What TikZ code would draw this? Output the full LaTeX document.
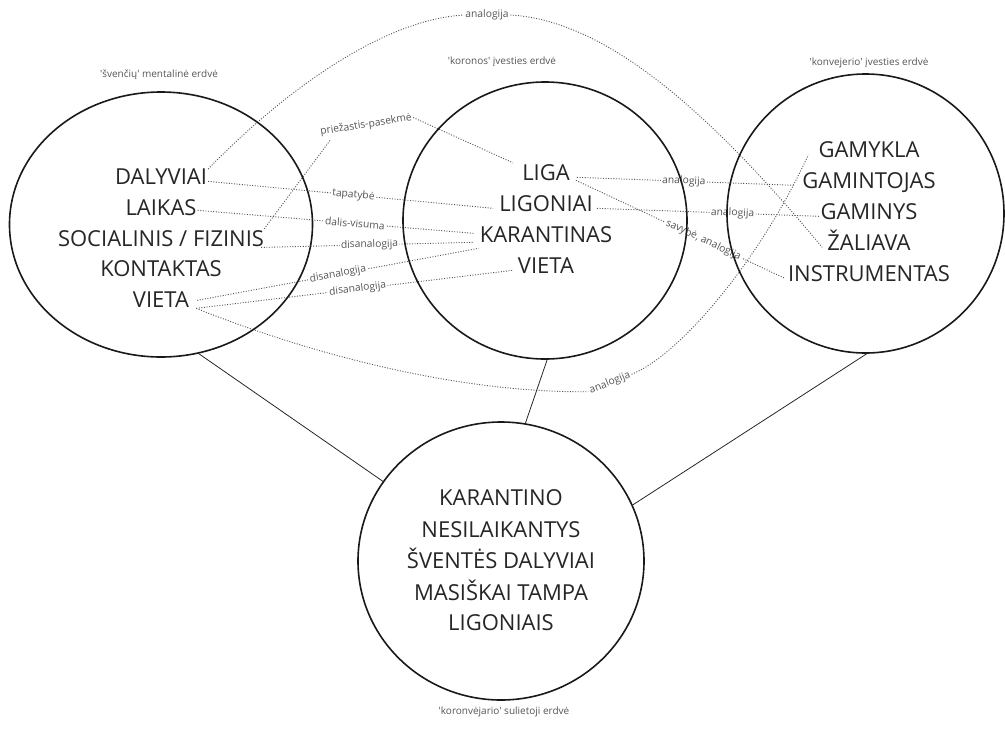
\documentclass[tikz,border=0pt]{standalone}
\usepackage{fontspec}
\setmainfont{Open Sans}
\usetikzlibrary{shapes.geometric,calc}
\definecolor{ink}{HTML}{262626}
\definecolor{note}{HTML}{555555}
\definecolor{dots}{HTML}{555555}
\tikzset{
  space/.style={ellipse, draw=black!90, line width=1.6pt, inner sep=0pt, outer sep=0pt},
  term/.style={font=\fontsize{22}{22}\selectfont, text=ink, anchor=base, inner sep=1pt},
  spacename/.style={font=\fontsize{10}{12}\selectfont, text=note, anchor=base, inner sep=0pt},
  rel/.style={draw=dots, line width=0.9pt, dash pattern=on 1pt off 1.6pt},
  rellabel/.style={font=\fontsize{10.3}{12}\selectfont, text=note, fill=white, inner sep=1.5pt},
  link/.style={draw=black!85, line width=0.8pt},
}
\begin{document}
\begin{tikzpicture}[x=1pt,y=1pt]
\useasboundingbox (0,0) rectangle (1005,-748);

% --- 'švenčių' space
\node[term] (dalyviai) at (161,-184) {DALYVIAI};
\node[term] (laikas) at (161,-215) {LAIKAS};
\node[term] (soc) at (161,-246) {SOCIALINIS / FIZINIS};
\node[term] (kontaktas) at (161,-276) {KONTAKTAS};
\node[term] (vietaL) at (161,-307) {VIETA};

% --- 'koronos' space
\node[term] (liga) at (546,-180) {LIGA};
\node[term] (ligoniai) at (546,-211) {LIGONIAI};
\node[term] (karantinas) at (546,-242) {KARANTINAS};
\node[term] (vietaM) at (546,-273) {VIETA};

% --- 'konvejerio' space
\node[term] (gamykla) at (869,-157.5) {GAMYKLA};
\node[term] (gamintojas) at (869,-188) {GAMINTOJAS};
\node[term] (gaminys) at (869,-219) {GAMINYS};
\node[term] (zaliava) at (869,-250) {ŽALIAVA};
\node[term] (instrumentas) at (869,-281) {INSTRUMENTAS};

% --- blended space
\node[term] (b1) at (501,-505) {KARANTINO};
\node[term] (b2) at (501,-537) {NESILAIKANTYS};
\node[term] (b3) at (501,-568) {ŠVENTĖS DALYVIAI};
\node[term] (b4) at (501,-600) {MASIŠKAI TAMPA};
\node[term] (b5) at (501,-630) {LIGONIAIS};

% --- dotted mappings
\node[rellabel] (labTop) at (487,-15) {analogija};
\draw[rel] ([yshift=-2pt]dalyviai.north east) .. controls (280,-95) and (380,-20) .. (labTop.west);
\draw[rel] (labTop.east) .. controls (600,-20) and (700,-100) .. ([xshift=-4pt]zaliava.mid west);

\draw[rel] (dalyviai.mid east) -- node[rellabel, sloped, pos=0.51] {tapatybė} ([xshift=-5pt]ligoniai.mid west);
\draw[rel] ([yshift=2pt]laikas.mid east) -- node[rellabel, sloped, pos=0.57] {dalis-visuma} ([xshift=-5pt,yshift=6pt]karantinas.mid west);
\draw[rel] ([xshift=-4pt]soc.south east) -- node[rellabel, sloped, pos=0.51] {disanalogija} ([xshift=-5pt,yshift=-3pt]karantinas.mid west);
\draw[rel] ([xshift=7pt,yshift=4pt]vietaL.mid east) -- node[rellabel, sloped, pos=0.5] {disanalogija} ([yshift=-9pt]karantinas.mid west);
\draw[rel] ([xshift=6pt,yshift=-4pt]vietaL.mid east) -- node[rellabel, sloped, pos=0.51] {disanalogija} ([xshift=-4pt]vietaM.mid west);

\node[rellabel, rotate=22] (labBot) at (610,-383) {analogija};
\draw[rel] ([xshift=6pt,yshift=-4pt]vietaL.mid east) .. controls (300,-350) and (450,-393) .. (labBot.west);
\draw[rel] (labBot.east) .. controls (680,-355) and (760,-260) .. ([xshift=-9pt]gamykla.mid west);

\node[rellabel, rotate=9] (labCause) at (366,-125) {priežastis-pasekmė};
\draw[rel] ([xshift=-1pt]soc.north east) -- ([xshift=11pt]labCause.south west);
\draw[rel] (labCause.east) -- ([xshift=-8pt]liga.north west);

\draw[rel] ([xshift=6pt]liga.mid east) -- node[rellabel, sloped, pos=0.49] {analogija} ([xshift=-6pt]gamintojas.mid west);
\draw[rel] ([xshift=3pt]ligoniai.mid east) -- node[rellabel, sloped, pos=0.61] {analogija} (gaminys.mid west);
\draw[rel] ([xshift=5pt,yshift=-3pt]liga.mid east) -- node[rellabel, sloped, pos=0.61] {savybė, analogija} ([xshift=-2pt]instrumentas.mid west);

% --- the four mental spaces
\node[space, minimum width=303pt, minimum height=265pt] (left) at (161,-224.5) {};
\node[space, minimum width=284pt, minimum height=277pt] (mid) at (545,-220.5) {};
\node[space, minimum width=277pt, minimum height=279pt] (right) at (865.5,-213.5) {};
\node[space, minimum width=286pt, minimum height=278pt] (blend) at (501,-561) {};

\draw[link] (left.-74.4) -- (blend.146.4);
\draw[link] (mid.-89.6) -- (blend.80.6);
\draw[link] (right.-89) -- (blend.23);

% --- space names
\node[spacename] (capL) at (159,-77.7) {\textquotesingle švenčių\textquotesingle{} mentalinė erdvė};
\node[spacename] (capM) at (502,-64.7) {\textquotesingle koronos\textquotesingle{} įvesties erdvė};
\node[spacename] (capR) at (869,-65.7) {\textquotesingle konvejerio\textquotesingle{} įvesties erdvė};
\node[spacename] (capB) at (504,-714.7) {\textquotesingle koronvėjario\textquotesingle{} sulietoji erdvė};
\end{tikzpicture}
\end{document}
